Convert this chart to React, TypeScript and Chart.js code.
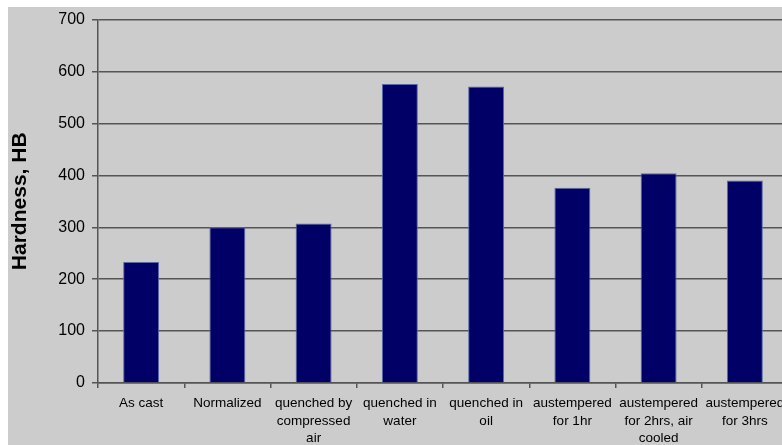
import React, { useEffect, useRef } from "react";
import { Chart, registerables } from "chart.js";

Chart.register(...registerables);

// Heat-treatment conditions (multi-line axis labels)
const categories: string[][] = [
  ["As cast"],
  ["Normalized"],
  ["quenched by", "compressed", "air"],
  ["quenched in", "water"],
  ["quenched in", "oil"],
  ["austempered", "for 1hr"],
  ["austempered", "for 2hrs, air", "cooled"],
  ["austempered", "for 3hrs"],
];

// Brinell hardness for each condition
const hardness: number[] = [233, 300, 307, 576, 571, 376, 404, 390];

const yMin = 0;
const yMax = 700;
const yStep = 100;

const CANVAS_W = 800;
const CANVAS_H = 442;

export default function App() {
  const canvasRef = useRef<HTMLCanvasElement | null>(null);

  useEffect(() => {
    const canvas = canvasRef.current;
    if (!canvas) return;
    const chart = new Chart(canvas, {
      type: "bar",
      data: {
        labels: categories,
        datasets: [
          {
            data: hardness,
            backgroundColor: "#000066",
            borderColor: "#5a6aa8",
            borderWidth: 1,
            barPercentage: 0.6,
            categoryPercentage: 0.695,
          },
        ],
      },
      options: {
        responsive: false,
        animation: false,
        layout: { padding: { left: 0, top: 8, right: 20, bottom: 0 } },
        plugins: {
          legend: { display: false },
          tooltip: { enabled: false },
        },
        scales: {
          x: {
            offset: true,
            grid: {
              display: true,
              drawOnChartArea: false,
              drawTicks: true,
              tickLength: 5,
              color: "#555555",
              lineWidth: 1.5,
              offset: true,
            },
            border: { display: true, color: "#555555", width: 1.5 },
            ticks: {
              color: "#000000",
              padding: 7,
              maxRotation: 0,
              autoSkip: false,
              font: { family: "'Liberation Sans', Arial, sans-serif", size: 13.5, lineHeight: 1.28 },
            },
            afterFit: (scale: any) => {
              scale.height = 62;
            },
          },
          y: {
            min: yMin,
            max: yMax,
            ticks: {
              stepSize: yStep,
              color: "#000000",
              padding: 7,
              font: { family: "'Liberation Sans', Arial, sans-serif", size: 16 },
            },
            grid: {
              color: "#555555",
              lineWidth: 1.5,
              tickLength: 6,
            },
            border: { display: true, color: "#555555", width: 1.5 },
            title: {
              display: true,
              text: "Hardness, HB",
              color: "#000000",
              padding: { top: 0, bottom: 0 },
              font: { family: "'Liberation Sans', Arial, sans-serif", size: 21, weight: "bold" },
            },
            afterFit: (scale: any) => {
              scale.width = 90;
            },
          },
        },
      },
    });
    return () => chart.destroy();
  }, []);

  return (
    <div style={{ position: "fixed", inset: 0, overflow: "hidden", background: "#ffffff" }}>
      <div
        style={{
          position: "absolute",
          left: 8,
          top: 7,
          width: CANVAS_W,
          height: 438,
          background: "#cccccc",
        }}
      >
        <canvas
          ref={canvasRef}
          width={CANVAS_W}
          height={CANVAS_H}
          style={{ display: "block", position: "absolute", left: 0, top: -4, width: CANVAS_W, height: CANVAS_H }}
        />
      </div>
    </div>
  );
}
